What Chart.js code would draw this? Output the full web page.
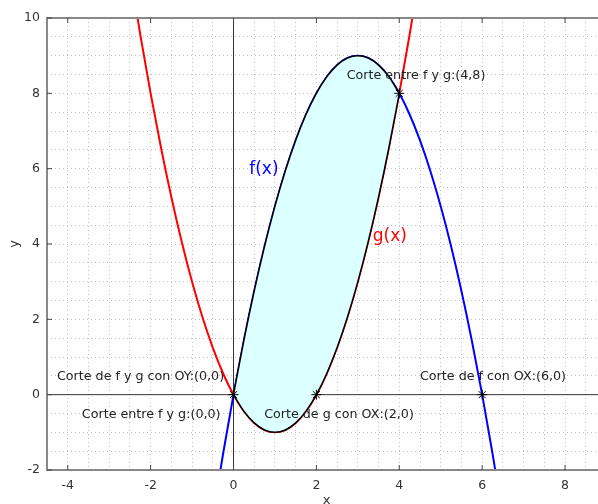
<!DOCTYPE html>
<html>
<head>
<meta charset="utf-8">
<script src="https://cdn.jsdelivr.net/npm/chart.js@4.4.0/dist/chart.umd.min.js"></script>
<style>
  html, body { margin: 0; padding: 0; overflow: hidden; background: #fff; }
  #wrap { width: 620px; height: 504px; }
</style>
</head>
<body>
<div id="wrap"><canvas id="chart" width="620" height="504"></canvas></div>
<script>
// f(x) samples (blue parabola)
const xF = [-0.5, -0.25, 0, 0.25, 0.5, 0.75, 1, 1.25, 1.5, 1.75, 2, 2.25, 2.5, 2.75, 3,
  3.25, 3.5, 3.75, 4, 4.25, 4.5, 4.75, 5, 5.25, 5.5, 5.75, 6, 6.25, 6.5];
const yF = [-3.25, -1.5625, 0, 1.4375, 2.75, 3.9375, 5, 5.9375, 6.75, 7.4375, 8, 8.4375, 8.75, 8.9375, 9,
  8.9375, 8.75, 8.4375, 8, 7.4375, 6.75, 5.9375, 5, 3.9375, 2.75, 1.4375, 0, -1.5625, -3.25];

// g(x) samples (red parabola)
const xG = [-2.5, -2.25, -2, -1.75, -1.5, -1.25, -1, -0.75, -0.5, -0.25, 0, 0.25, 0.5, 0.75, 1,
  1.25, 1.5, 1.75, 2, 2.25, 2.5, 2.75, 3, 3.25, 3.5, 3.75, 4, 4.25, 4.5];
const yG = [11.25, 9.5625, 8, 6.5625, 5.25, 4.0625, 3, 2.0625, 1.25, 0.5625, 0, -0.4375, -0.75, -0.9375, -1,
  -0.9375, -0.75, -0.4375, 0, 0.5625, 1.25, 2.0625, 3, 4.0625, 5.25, 6.5625, 8, 9.5625, 11.25];

// intersection points
const cutX = [0, 2, 4, 6];
const cutY = [0, 0, 8, 0];

// text labels
const notes = [
  { text: "Corte entre f y g:(4,8)", x: 2.73, y: 8.48, color: "#222", size: 12.7 },
  { text: "Corte de f y g con OY:(0,0)", x: -4.26, y: 0.47, color: "#222", size: 12.7 },
  { text: "Corte entre f y g:(0,0)", x: -3.66, y: -0.52, color: "#222", size: 12.7 },
  { text: "Corte de g con OX:(2,0)", x: 0.74, y: -0.52, color: "#222", size: 12.7 },
  { text: "Corte de f con OX:(6,0)", x: 4.5, y: 0.47, color: "#222", size: 12.7 },
  { text: "f(x)", x: 0.38, y: 5.97, color: "#0000ff", size: 17 },
  { text: "g(x)", x: 3.36, y: 4.2, color: "#ff0000", size: 17 }
];

const pts = (xs, ys) => xs.map((x, i) => ({ x: x, y: ys[i] }));

const areaTop = pts(xF.slice(2, 19), yF.slice(2, 19));
const areaBot = pts(xG.slice(10, 27), yG.slice(10, 27));

const decor = {
  id: "decor",
  beforeDatasetsDraw(chart) {
    const { ctx, chartArea: a, scales } = chart;
    const x0 = scales.x.getPixelForValue(0);
    const y0 = scales.y.getPixelForValue(0);
    ctx.save();
    ctx.strokeStyle = "#333";
    ctx.lineWidth = 1;
    ctx.beginPath();
    ctx.moveTo(x0, a.top); ctx.lineTo(x0, a.bottom);
    ctx.moveTo(a.left, y0); ctx.lineTo(a.right, y0);
    ctx.stroke();
    ctx.restore();
  },
  afterDraw(chart) {
    const { ctx, chartArea: a, scales } = chart;
    ctx.save();
    // border
    ctx.strokeStyle = "#888";
    ctx.lineWidth = 2;
    ctx.strokeRect(a.left, a.top, a.right - a.left, a.bottom - a.top);
    // inner tick marks on major ticks
    ctx.lineWidth = 1;
    ctx.strokeStyle = "#444";
    ctx.beginPath();
    for (let v = -4; v <= 8; v += 2) {
      const px = scales.x.getPixelForValue(v);
      ctx.moveTo(px, a.bottom); ctx.lineTo(px, a.bottom - 5);
      ctx.moveTo(px, a.top); ctx.lineTo(px, a.top + 5);
    }
    for (let v = -2; v <= 10; v += 2) {
      const py = scales.y.getPixelForValue(v);
      ctx.moveTo(a.left, py); ctx.lineTo(a.left + 5, py);
      ctx.moveTo(a.right, py); ctx.lineTo(a.right - 5, py);
    }
    ctx.stroke();
    // notes
    ctx.textBaseline = "middle";
    ctx.textAlign = "left";
    notes.forEach(n => {
      ctx.font = n.size + "px 'DejaVu Sans'";
      ctx.fillStyle = n.color;
      ctx.fillText(n.text, scales.x.getPixelForValue(n.x), scales.y.getPixelForValue(n.y));
    });
    // axis titles
    ctx.fillStyle = "#333";
    ctx.font = "13px 'DejaVu Sans'";
    ctx.textAlign = "center";
    ctx.fillText("x", (a.left + 598) / 2 + 4, 501);
    ctx.translate(15, (a.top + a.bottom) / 2);
    ctx.rotate(-Math.PI / 2);
    ctx.fillText("y", 0, 0);
    ctx.restore();
  }
};

const tickLabel = v => (Math.abs(v % 2) < 1e-9 ? v : "");

new Chart(document.getElementById("chart"), {
  type: "scatter",
  data: {
    datasets: [
      {
        label: "cortes",
        data: pts(cutX, cutY),
        showLine: false,
        pointStyle: "star",
        pointRadius: 5,
        borderColor: "#000",
        borderWidth: 1,
        order: 0
      },
      {
        label: "area f",
        data: areaTop,
        showLine: true,
        borderColor: "#000",
        borderWidth: 1.5,
        pointRadius: 0,
        cubicInterpolationMode: "monotone",
        backgroundColor: "#dcffff",
        fill: "+1",
        order: 1.5
      },
      {
        label: "area g",
        data: areaBot,
        showLine: true,
        borderColor: "#000",
        borderWidth: 1.5,
        pointRadius: 0,
        cubicInterpolationMode: "monotone",
        fill: false,
        order: 1
      },
      {
        label: "f(x)",
        data: pts(xF, yF),
        showLine: true,
        borderColor: "#0000ff",
        borderWidth: 2,
        pointRadius: 0,
        cubicInterpolationMode: "monotone",
        order: 2
      },
      {
        label: "g(x)",
        data: pts(xG, yG),
        showLine: true,
        borderColor: "#ff0000",
        borderWidth: 2,
        pointRadius: 0,
        cubicInterpolationMode: "monotone",
        order: 2
      }
    ]
  },
  options: {
    responsive: false,
    animation: false,
    layout: { padding: { top: 18, right: 13.5, left: 0, bottom: 0 } },
    plugins: { legend: { display: false }, tooltip: { enabled: false } },
    scales: {
      x: {
        type: "linear",
        min: -4.5,
        max: 9,
        afterFit: s => { s.height = 34; s.paddingLeft = 0; s.paddingRight = 0; },
        ticks: {
          stepSize: 0.5,
          autoSkip: false,
          maxRotation: 0,
          padding: 8,
          color: "#333",
          font: { family: "DejaVu Sans", size: 12.5 },
          callback: tickLabel
        },
        grid: { color: "#c0c0c0", lineWidth: 1, drawTicks: false },
        border: { display: false, dash: [1, 3] }
      },
      y: {
        type: "linear",
        min: -2,
        max: 10,
        afterFit: s => { s.width = 47; },
        ticks: {
          stepSize: 0.5,
          autoSkip: false,
          padding: 7,
          color: "#333",
          font: { family: "DejaVu Sans", size: 12.5 },
          callback: tickLabel
        },
        grid: { color: "#c0c0c0", lineWidth: 1, drawTicks: false },
        border: { display: false, dash: [1, 3] }
      }
    }
  },
  plugins: [decor]
});
</script>
</body>
</html>
